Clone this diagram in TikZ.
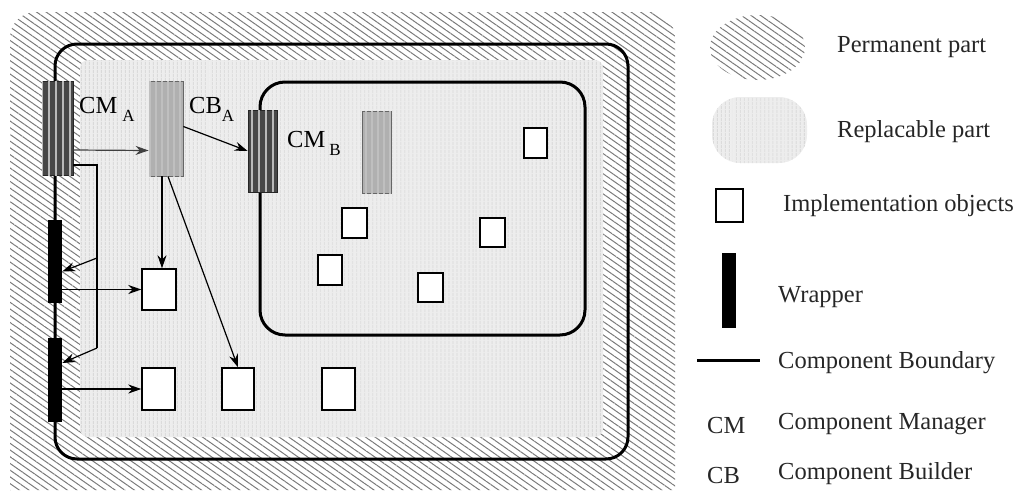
\documentclass[tikz,border=0pt]{standalone}
\usepackage{fontspec}
\setmainfont{Liberation Serif}
\usetikzlibrary{patterns.meta,arrows.meta,shapes.geometric}
\newcommand\labsub[3]{#1\hspace{#3}\raisebox{-8pt}{\fontsize{17}{17}\selectfont #2}}
\tikzset{
  permanent/.style={pattern={Lines[angle=-35,distance=5.5pt,line width=1pt]}, pattern color=black!52},
  replaceable/.style={fill=gray!14, postaction={pattern={Lines[angle=90,distance=4pt,line width=1pt]}, pattern color=gray!30}},
  boundary/.style={draw=black, line width=3pt},
  mgr/.style={draw=black!85, line width=0.8pt, fill=black!72, postaction={pattern={Lines[angle=90,distance=7pt,line width=1.6pt]}, pattern color=gray!55}, inner sep=0pt},
  bld/.style={draw=black!60, line width=0.8pt, fill=gray!62, postaction={pattern={Lines[angle=90,distance=6pt,line width=1.2pt]}, pattern color=gray!50}, inner sep=0pt},
  wrapper/.style={fill=black, inner sep=0pt, minimum width=14pt},
  impl/.style={draw=black, line width=1.4pt, fill=white, inner sep=0pt},
  arr/.style={-{Stealth[length=13pt,width=9pt]}, line width=1.2pt},
  thinline/.style={line width=1.3pt},
  lbl/.style={font=\fontsize{24.5}{28}\selectfont, inner sep=0pt, anchor=base west},
  leg/.style={font=\fontsize{24.5}{28}\selectfont, inner sep=0pt, anchor=west, text=black!85},
}
\begin{document}
\begin{tikzpicture}[x=1pt,y=-1pt]
\useasboundingbox (0,0) rectangle (1028,490);
% permanent (hatched) region
\fill[permanent] (10,490) [rounded corners=26pt] -- (10,12) -- (675,12) [sharp corners] -- (675,490) -- cycle;
% replaceable region
\path[replaceable, rounded corners=8pt] (80,60) rectangle (603,437);
% component boundaries
\draw[boundary, rounded corners=22pt] (55,44) rectangle (628,459);
\draw[boundary, rounded corners=25pt] (260,82) rectangle (585,335);
% managers / builders
\node[mgr, minimum width=31pt, minimum height=94pt] (cmA) at (57.5,128) {};
\node[bld, minimum width=34pt, minimum height=95pt] (cbA) at (166,128.5) {};
\node[mgr, minimum width=29pt, minimum height=82pt] (cmB) at (262.5,151) {};
\node[bld, minimum width=29pt, minimum height=82pt] (cbB) at (376.5,152) {};
% wrappers
\node[wrapper, minimum height=83pt] (w1) at (55,261.5) {};
\node[wrapper, minimum height=84pt] (w2) at (55,380) {};
% implementation objects
\node[impl, minimum width=34pt, minimum height=41pt] (s1) at (159,289.5) {};
\node[impl, minimum width=33pt, minimum height=42pt] (s2) at (158.5,389) {};
\node[impl, minimum width=32pt, minimum height=42pt] (s3) at (238,389) {};
\node[impl, minimum width=33pt, minimum height=42pt] (s4) at (338.5,389) {};
\node[impl, minimum width=23pt, minimum height=30pt] (i1) at (535.5,143) {};
\node[impl, minimum width=25pt, minimum height=30pt] (i2) at (354.5,223) {};
\node[impl, minimum width=25pt, minimum height=29pt] (i3) at (492.5,232.5) {};
\node[impl, minimum width=24pt, minimum height=30pt] (i4) at (330,270) {};
\node[impl, minimum width=25pt, minimum height=29pt] (i5) at (430.5,287.5) {};
% connectors
\coordinate (bus1) at (97,258);
\coordinate (bus2) at (97,348);
\draw[arr, draw=black!75] ([yshift=-22pt]cmA.east) -- ([yshift=-22pt]cbA.west);
\draw[arr] ([yshift=2pt]cbA.east) -- (cmB.west);
\draw[arr] ([xshift=-4pt]cbA.south) -- ([xshift=3pt]s1.north);
\draw[arr] ([xshift=2pt]cbA.south) -- (s3.north);
\draw[thinline] ([yshift=-37pt]cmA.east) -| (bus2);
\draw[arr] (bus1) -- ([yshift=-10pt]w1.east);
\draw[arr] (bus2) -- ([yshift=17pt]w2.east);
\draw[arr] (w1.east |- s1.west) -- (s1.west);
\draw[arr] (w2.east |- s2.west) -- (s2.west);
% labels
\node[lbl] (lcmA) at (79,113) {\labsub{CM}{A}{5pt}};
\node[lbl] (lcbA) at (189,113) {\labsub{CB}{A}{0pt}};
\node[lbl] (lcmB) at (287,147) {\labsub{CM}{B}{4pt}};
% legend
\node[ellipse, permanent, minimum width=95pt, minimum height=65pt, inner sep=0pt] (gPerm) at (757.5,47.5) {};
\node[replaceable, rounded corners=28pt, minimum width=95pt, minimum height=66pt, inner sep=0pt] (gRepl) at (759.5,130) {};
\node[impl, line width=1.2pt, minimum width=27pt, minimum height=33pt] (gImpl) at (729.5,205.5) {};
\node[wrapper, minimum height=75pt] (gWrap) at (729,290.5) {};
\coordinate (gB1) at (697,360);
\coordinate (gB2) at (760,360);
\draw[boundary] (gB1) -- (gB2);
\node[leg] (tPerm) at (837,47) {Permanent part};
\node[leg] (tRepl) at (837,132) {Replacable part};
\node[leg] (tImpl) at (783,206) {Implementation objects};
\node[leg] (tWrap) at (778,297) {Wrapper};
\node[leg] (tBound) at (778,363) {Component Boundary};
\node[leg] (tCMa) at (707,426) {CM};
\node[leg] (tCM) at (778,424) {Component Manager};
\node[leg] (tCBa) at (707,476) {CB};
\node[leg] (tCB) at (778,474) {Component Builder};
\end{tikzpicture}
\end{document}
